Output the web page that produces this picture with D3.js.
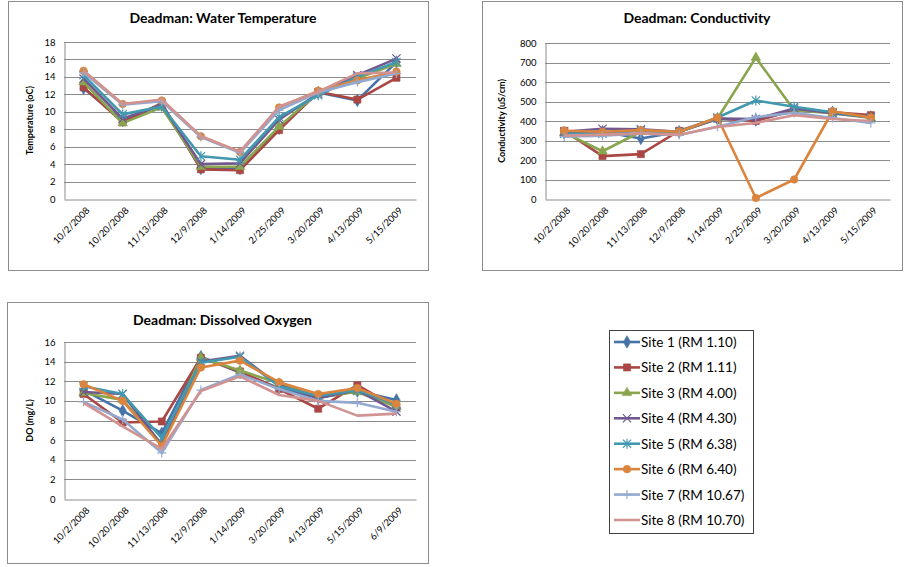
<!DOCTYPE html>
<html>
<head>
<meta charset="utf-8">
<script src="https://cdn.jsdelivr.net/npm/d3@7"></script>
<style>
  html, body { margin: 0; padding: 0; background: #fff; }
  svg { display: block; font-family: Lato, "Open Sans", "Liberation Sans", sans-serif; }
</style>
</head>
<body>
<svg id="chart" width="904" height="567"></svg>
<script>
// Sampling dates
const tempDates = ["10/2/2008","10/20/2008","11/13/2008","12/9/2008","1/14/2009","2/25/2009","3/20/2009","4/13/2009","5/15/2009"];
const condDates = ["10/2/2008","10/20/2008","11/13/2008","12/9/2008","1/14/2009","2/25/2009","3/20/2009","4/13/2009","5/15/2009"];
const doDates   = ["10/2/2008","10/20/2008","11/13/2008","12/9/2008","1/14/2009","3/20/2009","4/13/2009","5/15/2009","6/9/2009"];

// Sites
const siteNames = ["Site 1 (RM 1.10)","Site 2 (RM 1.11)","Site 3 (RM 4.00)","Site 4 (RM 4.30)","Site 5 (RM 6.38)","Site 6 (RM 6.40)","Site 7 (RM 10.67)","Site 8 (RM 10.70)"];
const siteColors = ["#4572A7","#AA4643","#89A54E","#71588F","#4198AF","#DB843D","#93A9CF","#D19392"];
const siteMarkers = ["diamond","square","triangle","x","star","circle","plus","none"];

// Water temperature (oC), one row per site
const tempSite1 = [12.7, 9.0, 10.8, 3.5, 3.5, 8.1, 12.2, 11.3, 15.7];
const tempSite2 = [12.8, 8.8, 11.0, 3.4, 3.3, 7.9, 12.3, 11.4, 13.9];
const tempSite3 = [13.4, 8.7, 10.5, 3.7, 3.7, 8.3, 12.2, 13.8, 15.5];
const tempSite4 = [13.8, 9.2, 10.8, 4.0, 4.1, 9.1, 12.1, 14.2, 16.1];
const tempSite5 = [14.2, 9.7, 10.6, 4.9, 4.5, 9.4, 11.9, 14.0, 15.7];
const tempSite6 = [14.7, 10.9, 11.3, 7.2, 5.4, 10.5, 12.4, 13.6, 14.6];
const tempSite7 = [14.5, 10.8, 11.2, 7.1, 5.3, 10.2, 12.2, 13.4, 14.4];
const tempSite8 = [14.7, 10.9, 11.4, 7.2, 5.4, 10.6, 12.3, 14.4, 14.5];

// Conductivity (uS/cm)
const condSite1 = [340, 345, 310, 345, 410, 405, 452, 445, 420];
const condSite2 = [350, 220, 230, 350, 413, 400, 455, 445, 430];
const condSite3 = [340, 245, 345, 345, 413, 725, 455, 440, 415];
const condSite4 = [345, 360, 357, 345, 413, 410, 464, 440, 420];
const condSite5 = [335, 335, 350, 345, 418, 505, 473, 445, 418];
const condSite6 = [350, 345, 353, 345, 418, 5, 100, 450, 418];
const condSite7 = [320, 325, 336, 328, 370, 420, 442, 415, 390];
const condSite8 = [325, 330, 336, 330, 370, 390, 430, 410, 400];

// Dissolved oxygen (mg/L)
const doSite1 = [11.1, 9.0, 6.7, 14.5, 12.9, 11.3, 10.3, 11.0, 10.1];
const doSite2 = [10.7, 7.8, 7.9, 14.4, 13.0, 11.2, 9.2, 11.6, 9.3];
const doSite3 = [10.8, 10.1, 5.6, 14.4, 13.1, 11.8, 10.4, 10.9, 9.4];
const doSite4 = [10.9, 10.7, 5.5, 14.0, 14.6, 11.6, 10.3, 11.1, 8.9];
const doSite5 = [11.5, 10.7, 6.2, 13.9, 14.5, 11.5, 10.5, 11.1, 9.6];
const doSite6 = [11.7, 10.0, 5.4, 13.4, 14.1, 11.9, 10.7, 11.3, 9.7];
const doSite7 = [9.9, 8.1, 4.7, 11.1, 12.7, 11.2, 10.0, 9.8, 8.9];
const doSite8 = [9.8, 7.4, 5.1, 11.0, 12.5, 10.6, 10.0, 8.5, 8.7];

const tempSeries = [tempSite1, tempSite2, tempSite3, tempSite4, tempSite5, tempSite6, tempSite7, tempSite8];
const condSeries = [condSite1, condSite2, condSite3, condSite4, condSite5, condSite6, condSite7, condSite8];
const doSeries   = [doSite1, doSite2, doSite3, doSite4, doSite5, doSite6, doSite7, doSite8];

const tempTicks = d3.range(0, 19, 2);
const condTicks = d3.range(0, 801, 100);
const doTicks   = d3.range(0, 17, 2);

const svg = d3.select("#chart");

const panels = [
  { title: "Deadman: Water Temperature", yTitle: "Temperature (oC)", cats: tempDates, series: tempSeries, ticks: tempTicks,
    frame: [8, 1, 428, 270], plot: [64, 42, 416, 199], titleY: 23, yTitleX: 33 },
  { title: "Deadman: Conductivity", yTitle: "Conductivity (uS/cm)", cats: condDates, series: condSeries, ticks: condTicks,
    frame: [482, 1, 902, 270], plot: [545, 43, 890, 199], titleY: 23, yTitleX: 505 },
  { title: "Deadman: Dissolved Oxygen", yTitle: "DO (mg/L)", cats: doDates, series: doSeries, ticks: doTicks,
    frame: [7, 302, 428, 563], plot: [64, 342, 416, 499], titleY: 325, yTitleX: 33 }
];

function markerPath(kind, size) {
  const s = size;
  switch (kind) {
    case "diamond":  return d3.symbol(d3.symbolDiamond, s * s * 0.8)();
    case "square":   return d3.symbol(d3.symbolSquare, s * s * 0.9)();
    case "triangle": return d3.symbol(d3.symbolTriangle, s * s * 0.7)();
    case "circle":   return d3.symbol(d3.symbolCircle, s * s * 0.8)();
    case "x": { const h = s * 0.55; return `M${-h},${-h}L${h},${h}M${-h},${h}L${h},${-h}`; }
    case "star": { const h = s * 0.55; return `M${-h},${-h}L${h},${h}M${-h},${h}L${h},${-h}M0,${-h * 1.2}L0,${h * 1.2}`; }
    case "plus": { const h = s * 0.6; return `M${-h},0L${h},0M0,${-h}L0,${h}`; }
    default: return null;
  }
}

function drawMarker(g, kind, color, x, y, size) {
  const p = markerPath(kind, size);
  if (!p) return;
  const filled = ["diamond", "square", "triangle", "circle"].includes(kind);
  g.append("path")
    .attr("d", p)
    .attr("transform", `translate(${x},${y})`)
    .attr("fill", filled ? color : "none")
    .attr("stroke", color)
    .attr("stroke-width", filled ? 0.6 : 1.2);
}

panels.forEach(pn => {
  const [fx0, fy0, fx1, fy1] = pn.frame;
  const [px0, py0, px1, py1] = pn.plot;

  svg.append("rect")
    .attr("x", fx0 + 0.5).attr("y", fy0 + 0.5)
    .attr("width", fx1 - fx0).attr("height", fy1 - fy0)
    .attr("fill", "#fff").attr("stroke", "#8c8c8c").attr("stroke-width", 1);

  const x = d3.scaleBand().domain(pn.cats).range([px0, px1]).padding(0);
  const cx = c => x(c) + x.bandwidth() / 2;
  const y = d3.scaleLinear().domain([0, d3.max(pn.ticks)]).range([py1, py0]);

  const g = svg.append("g");

  // gridlines
  g.append("g").selectAll("line").data(pn.ticks.filter(t => t > 0)).join("line")
    .attr("x1", px0).attr("x2", px1)
    .attr("y1", d => Math.round(y(d)) + 0.5).attr("y2", d => Math.round(y(d)) + 0.5)
    .attr("stroke", "#8c8c8c").attr("stroke-width", 1);

  // y axis
  const yAxis = g.append("g").attr("transform", `translate(${px0 + 0.5},0)`)
    .call(d3.axisLeft(y).tickValues(pn.ticks).tickSize(0).tickPadding(9).tickFormat(d3.format("d")));
  yAxis.select(".domain").attr("stroke", "#8c8c8c");
  yAxis.selectAll("text").attr("font-size", 9.5).attr("fill", "#000").attr("font-family", "Lato, sans-serif");

  // x axis with slanted date labels
  const xAxis = g.append("g").attr("transform", `translate(0,${Math.round(py1) + 0.5})`)
    .call(d3.axisBottom(x).tickSize(0).tickPadding(0));
  xAxis.select(".domain").attr("stroke", "#8c8c8c");
  xAxis.selectAll("text")
    .attr("font-size", 9.5).attr("fill", "#000").attr("font-family", "Lato, sans-serif")
    .attr("text-anchor", "end")
    .attr("dy", null).attr("y", 0)
    .attr("transform", "translate(5,10) rotate(-45)")
    .attr("dominant-baseline", "middle");

  // titles
  svg.append("text")
    .attr("x", (fx0 + fx1) / 2 + 5).attr("y", pn.titleY)
    .attr("text-anchor", "middle").attr("font-weight", "bold").attr("font-size", 14)
    .attr("fill", "#000").text(pn.title);

  svg.append("text")
    .attr("transform", `translate(${pn.yTitleX},${(py0 + py1) / 2}) rotate(-90)`)
    .attr("text-anchor", "middle").attr("font-weight", "bold").attr("font-size", 9)
    .attr("fill", "#000").text(pn.yTitle);

  // series lines and markers
  const line = d3.line().x((d, i) => cx(pn.cats[i])).y(d => y(d));
  pn.series.forEach((vals, si) => {
    const sg = g.append("g");
    sg.append("path").datum(vals)
      .attr("d", line)
      .attr("fill", "none").attr("stroke", siteColors[si])
      .attr("stroke-width", 2.6).attr("stroke-linejoin", "round");
    vals.forEach((v, i) => drawMarker(sg, siteMarkers[si], siteColors[si], cx(pn.cats[i]), y(v), 7.5));
  });
});

// legend
const lg = svg.append("g");
const legX = 609, legY = 330, legW = 144, legH = 203;
lg.append("rect").attr("x", legX + 0.5).attr("y", legY + 0.5).attr("width", legW).attr("height", legH)
  .attr("fill", "#fff").attr("stroke", "#404040").attr("stroke-width", 1);
const legStep = d3.scalePoint().domain(siteNames).range([legY + 12, legY + 190]);
siteNames.forEach((name, i) => {
  const yy = legStep(name);
  lg.append("line").attr("x1", legX + 5).attr("x2", legX + 31).attr("y1", yy).attr("y2", yy)
    .attr("stroke", siteColors[i]).attr("stroke-width", 2.6);
  drawMarker(lg, siteMarkers[i], siteColors[i], legX + 18, yy, 7.5);
  lg.append("text").attr("x", legX + 32).attr("y", yy).attr("dominant-baseline", "central")
    .attr("font-size", 13.5).attr("fill", "#000").text(name);
});
</script>
</body>
</html>
